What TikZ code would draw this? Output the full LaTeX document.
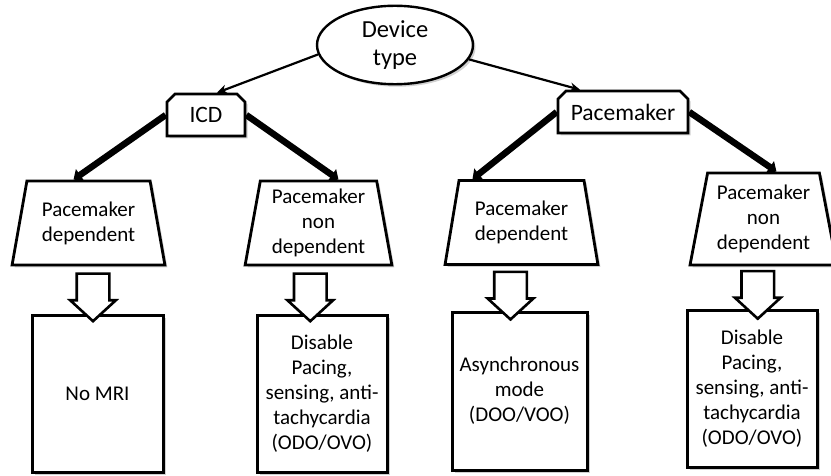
\documentclass[tikz,border=0pt]{standalone}
\usepackage{fontspec}
\setmainfont{Carlito}
\usetikzlibrary{positioning,arrows.meta,calc,shapes.geometric,shapes.misc,shapes.arrows,shadows}

\begin{document}
\begin{tikzpicture}[
    x=1pt, y=-1pt,
    font=\fontsize{21}{25}\selectfont,
    boxshadow/.style={drop shadow={shadow xshift=2.5pt, shadow yshift=-2.5pt, opacity=0.3, fill=black!60}},
    device/.style={
        draw, ellipse, line width=2.4pt,
        fill=white,
        minimum width=156pt,
        minimum height=74pt,
        align=center, boxshadow,
        font=\fontsize{24.5}{28}\selectfont
    },
    kind/.style={
        draw, chamfered rectangle,
        chamfered rectangle corners={north west,north east},
        chamfered rectangle xsep=4pt,
        chamfered rectangle ysep=4pt,
        line width=2.6pt, fill=white,
        minimum height=42pt, boxshadow,
        font=\fontsize{23.5}{27}\selectfont
    },
    depend/.style={
        draw, trapezium, trapezium stretches=true,
        line width=2.8pt, fill=white,
        minimum height=84pt, inner sep=2pt,
        align=center, boxshadow
    },
    action/.style={
        draw, rectangle, line width=3pt,
        fill=white,
        minimum width=131pt,
        minimum height=157pt,
        inner xsep=2pt,
        align=center, boxshadow
    },
    hollow/.style={
        draw, single arrow, shape border rotate=270,
        line width=2.6pt, fill=white, inner sep=15pt,
        minimum width=1pt,
        single arrow head extend=6.5pt,
        single arrow tip angle=95
    },
    typeline/.style={-{Stealth[length=10pt,width=9pt]}, line width=2.2pt},
    branchline/.style={-{Triangle[length=8pt,width=14pt]}, line width=6.5pt}
]
\useasboundingbox (0,0) rectangle (831,476);

% Top of the tree
\node[device] (dev) at (395,45) {Device\\type};

% Device kinds
\node[kind, minimum width=78pt]  (icd) at (206,115) {ICD};
\node[kind, minimum width=130pt] (pm)  at (623,112) {Pacemaker};

% Dependency
\node[depend, minimum width=153pt, trapezium angle=76] (icddep) at (88.5,223) {Pacemaker\\dependent};
\node[depend, minimum width=147pt, trapezium angle=80] (icdnon) at (318.5,223) {Pacemaker\\non\\dependent};
\node[depend, minimum width=153pt, trapezium angle=77] (pmdep)  at (521.5,222.5) {Pacemaker\\dependent};
\node[depend, minimum width=147pt, minimum height=92pt, trapezium angle=78] (pmnon) at (763.5,219) {Pacemaker\\non\\dependent};

% What to do
\node[action] (nomri) at (97.5,393.5) {No MRI};
\node[action, minimum width=130pt] (icdoff) at (322,393.5) {Disable\\Pacing,\\sensing, anti-\\tachycardia\\(ODO/OVO)};
\node[action, minimum width=135pt, minimum height=158pt] (async) at (519.5,391) {Asynchronous\\mode\\(DOO/VOO)};
\node[action, minimum width=130pt] (pmoff) at (752,388.5) {Disable\\Pacing,\\sensing, anti-\\tachycardia\\(ODO/OVO)};

% Arrows from device type
\draw[typeline] (dev.187) -- ([xshift=11pt]icd.north);
\draw[typeline] (dev.349) -- ([xshift=-43pt]pm.north);

% Branches
\draw[branchline] (icd.west) -- ([xshift=-15pt]icddep.north);
\draw[branchline] (icd.east) -- ([xshift=20pt]icdnon.north);
\draw[branchline] (pm.west)  -- ([xshift=-49pt]pmdep.north);
\draw[branchline] (pm.east)  -- ([xshift=13pt]pmnon.north);

% Hollow arrows
\path (icddep.south) -- (nomri.north) node[midway, hollow, minimum height=46pt] (a1) {};
\path (icdnon.south) -- (icdoff.north) node[midway, hollow, minimum height=46pt, xshift=-10pt] (a2) {};
\path (pmdep.south)  -- (async.north) node[midway, hollow, minimum height=46pt, xshift=-10pt] (a3) {};
\path (pmnon.south)  -- (pmoff.north) node[midway, hollow, minimum height=40pt] (a4) {};

\end{tikzpicture}
\end{document}
